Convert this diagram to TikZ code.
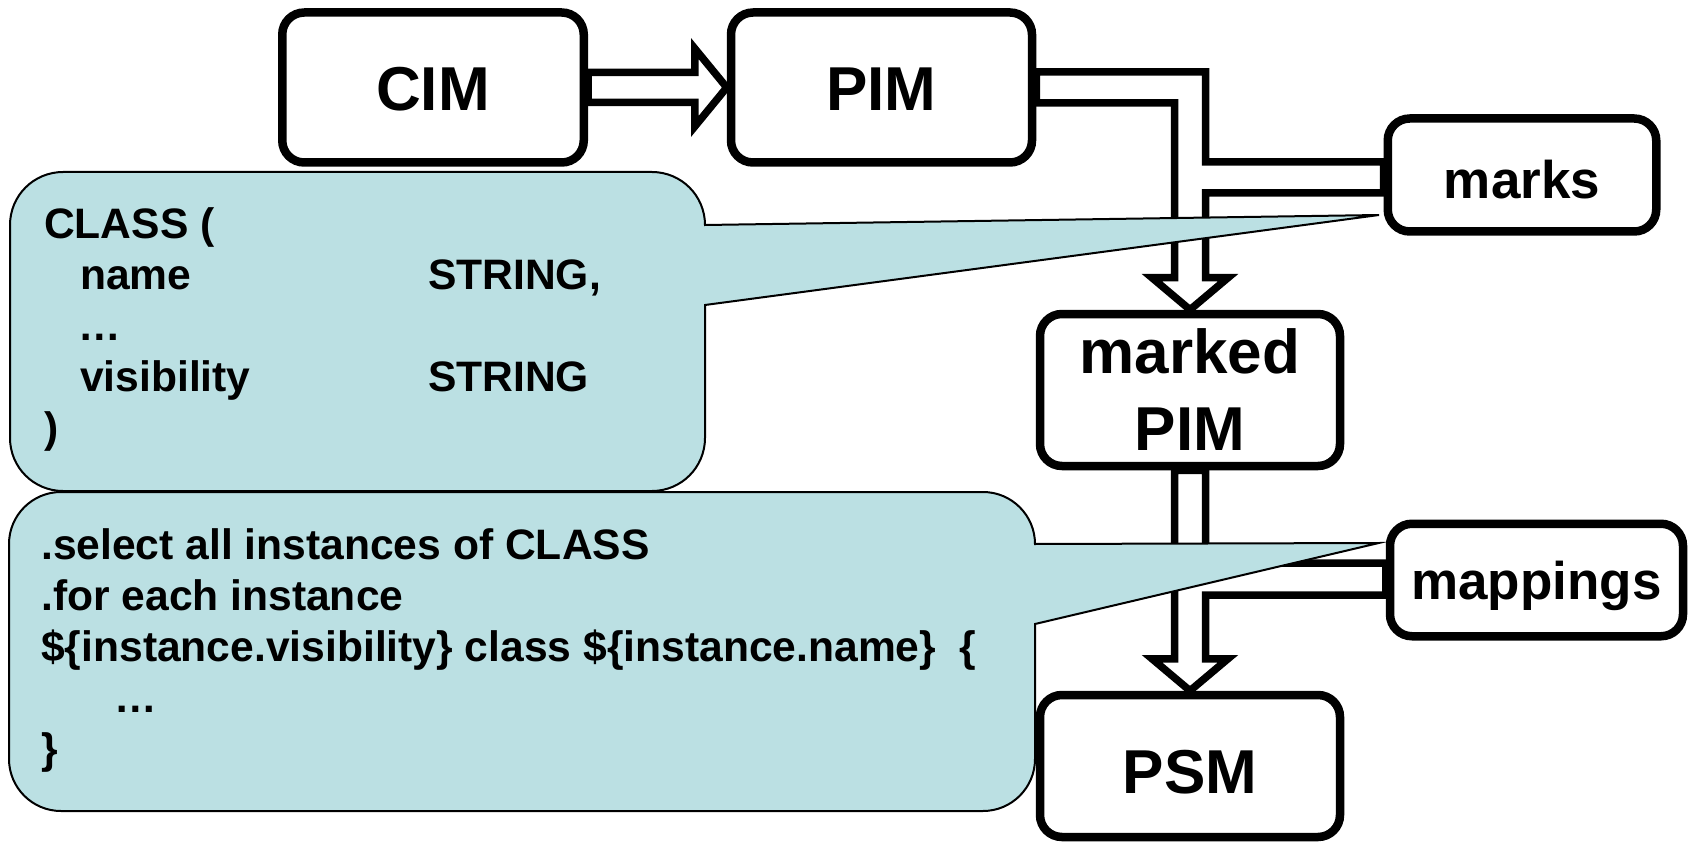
\documentclass[tikz,border=0pt]{standalone}
\usepackage{fontspec}
\setmainfont{Liberation Sans}
\usetikzlibrary{calc}
\pgfdeclarelayer{arrowlayer}
\pgfdeclarelayer{calloutlayer}
\pgfsetlayers{arrowlayer,calloutlayer,main}
\definecolor{callblue}{RGB}{187,224,227}
\begin{document}
\begin{tikzpicture}[x=1pt,y=-1pt,
  box/.style={draw=black, line width=8.5pt, fill=white, rounded corners=22pt, inner sep=0pt,
    font=\bfseries\fontsize{62pt}{77pt}\selectfont},
  smallbox/.style={box, font=\bfseries\fontsize{53pt}{64pt}\selectfont},
  blockarrow/.style={draw=black, line width=7.5pt, fill=white, miter limit=10},
  callout/.style={draw=black, line width=2pt, fill=callblue},
  code/.style={anchor=base west, inner sep=0pt, font=\bfseries\fontsize{42.6pt}{51pt}\selectfont}
]
\useasboundingbox (0,0) rectangle (1690,845);

% boxes
\node[box, minimum width=301.5pt, minimum height=150pt, text height=47pt, text depth=0pt] (cim) at (433,87.5) {CIM};
\node[box, minimum width=301pt, minimum height=150pt, text height=47pt, text depth=0pt] (pim) at (881.5,87.5) {PIM};
\node[smallbox, minimum width=268.5pt, minimum height=113pt, text height=48pt, text depth=0pt] (marks) at (1522,175) {marks};
\node[box, minimum width=300pt, minimum height=152pt, align=center] (mpim) at (1190,390) {marked\\PIM};
\node[smallbox, minimum width=293pt, minimum height=112.5pt, text height=38pt, text depth=0pt] (mappings) at (1536.5,580) {mappings};
\node[box, minimum width=300pt, minimum height=142pt, text height=54pt, text depth=0pt] (psm) at (1190,766) {PSM};

% block arrows
\begin{pgfonlayer}{arrowlayer}
\coordinate (h1) at ([xshift=-32pt]pim.west);
\draw[blockarrow] ([yshift=15pt]cim.east) -- ([yshift=15pt]h1) -- ([yshift=39pt]h1) -- (pim.west)
  -- ([yshift=-39pt]h1) -- ([yshift=-15pt]h1) -- ([yshift=-15pt]cim.east) -- cycle;

\coordinate (a1) at ([yshift=15.5pt]pim.east);
\coordinate (a2) at ([yshift=-15.5pt]pim.east);
\coordinate (vr) at ([xshift=15.5pt]mpim.north);
\coordinate (vl) at ([xshift=-15.5pt]mpim.north);
\coordinate (b1) at ([yshift=13pt]marks.west);
\coordinate (b2) at ([yshift=-18pt]marks.west);
\coordinate (hb) at ([yshift=32pt]mpim.north);
\draw[blockarrow] (a1) -- (a1 -| vr) -- (vr |- b1) -- (b1) -- (b2) -- (b2 -| vr) -- (vr |- hb)
  -- ([xshift=38pt]hb) -- (mpim.north) -- ([xshift=-38pt]hb) -- (vl |- hb) -- (vl |- a2) -- (a2) -- cycle;

\coordinate (c1) at ([yshift=17pt]mappings.west);
\coordinate (c2) at ([yshift=-15pt]mappings.west);
\coordinate (hb2) at ([yshift=32pt]psm.north);
\coordinate (ur) at ([xshift=15.5pt]mpim.south);
\coordinate (ul) at ([xshift=-15.5pt]mpim.south);
\draw[blockarrow] (ul) -- (ul |- hb2) -- ([xshift=-38pt]hb2) -- (psm.north) -- ([xshift=38pt]hb2)
  -- (ur |- hb2) -- (ur |- c2) -- (c2) -- (c1) -- (ur |- c1) -- (ur) -- cycle;
\end{pgfonlayer}

% callouts
\begin{pgfonlayer}{calloutlayer}
\coordinate (t1) at ([xshift=-4.5pt,yshift=-40pt]marks.west);
\draw[callout] (63,172) -- (652,172) .. controls (681.3,172) and (705,195.7) .. (705,225)
  -- (t1) -- (705,305) -- (705,438) .. controls (705,467.3) and (681.3,491) .. (652,491)
  -- (63,491) .. controls (33.7,491) and (10,467.3) .. (10,438)
  -- (10,225) .. controls (10,195.7) and (33.7,172) .. (63,172) -- cycle;
\coordinate (t2) at ([xshift=-7pt,yshift=37pt]mappings.west);
\draw[callout] (61,492) -- (983,492) .. controls (1011.7,492) and (1035,515.3) .. (1035,544)
  -- (t2) -- (1035,624) -- (1035,759) .. controls (1035,787.7) and (1011.7,811) .. (983,811)
  -- (61,811) .. controls (32.3,811) and (9,787.7) .. (9,759)
  -- (9,544) .. controls (9,515.3) and (32.3,492) .. (61,492) -- cycle;
\end{pgfonlayer}

% callout texts
\node[code] (code1) at (44,239) {\vtop{\baselineskip=51pt\lineskiplimit=-1000pt\lineskip=0pt
  \hbox{CLASS (}
  \hbox{\kern36pt\hbox to 348pt{name\hfil}STRING,}
  \hbox{\kern34pt …}
  \hbox{\kern36pt\hbox to 348pt{visibility\hfil}STRING}
  \hbox{)}}};
\node[code] (code2) at (41,559) {\vtop{\baselineskip=51pt\lineskiplimit=-1000pt\lineskip=0pt
  \hbox{.select all instances of CLASS}
  \hbox{.for each instance}
  \hbox{\$\{instance.visibility\} class \$\{instance.name\}\ \ \{}
  \hbox{\kern73pt …}
  \hbox{\}}}};
\end{tikzpicture}
\end{document}
